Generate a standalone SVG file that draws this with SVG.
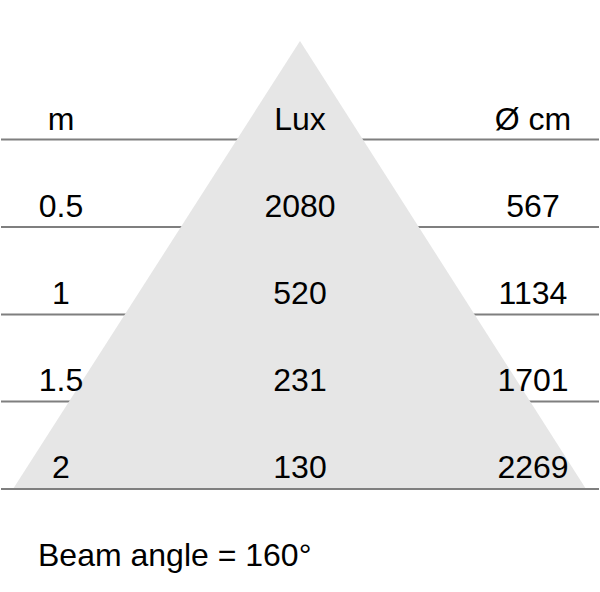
<svg xmlns="http://www.w3.org/2000/svg" width="600" height="592" viewBox="0 0 600 592">
<style>
.rule{stroke:#7f7f7f;stroke-width:2;fill:none}
.t{font-family:"Liberation Sans",Arial,sans-serif;font-size:32px;fill:#000;text-anchor:middle}
.tl{font-family:"Liberation Sans",Arial,sans-serif;font-size:32px;fill:#000}
</style>
<rect width="600" height="592" fill="#fff"/>
<g id="rules" class="rule">
<line x1="1" y1="139.5" x2="599" y2="139.5"/>
<line x1="1" y1="227" x2="599" y2="227"/>
<line x1="1" y1="314.5" x2="599" y2="314.5"/>
<line x1="1" y1="401.5" x2="599" y2="401.5"/>
</g>
<g id="beam">
<polygon points="300,41 586,489 13,489" fill="#e6e6e6"/>
</g>
<g id="baseline" class="rule">
<line x1="1" y1="489" x2="599" y2="489"/>
</g>
<g id="col-m" class="t">
<text x="61" y="129.5">m</text>
<text x="61" y="217">0.5</text>
<text x="61" y="304">1</text>
<text x="61" y="391">1.5</text>
<text x="61" y="478">2</text>
</g>
<g id="col-lux" class="t">
<text x="300" y="129.5">Lux</text>
<text x="300" y="217">2080</text>
<text x="300" y="304">520</text>
<text x="300" y="391">231</text>
<text x="300" y="478">130</text>
</g>
<g id="col-cm" class="t">
<text x="533" y="129.5">Ø cm</text>
<text x="533" y="217">567</text>
<text x="533" y="304">1134</text>
<text x="533" y="391">1701</text>
<text x="533" y="478">2269</text>
</g>
<g id="caption">
<text class="tl" x="38" y="566">Beam angle = 160°</text>
</g>
</svg>
